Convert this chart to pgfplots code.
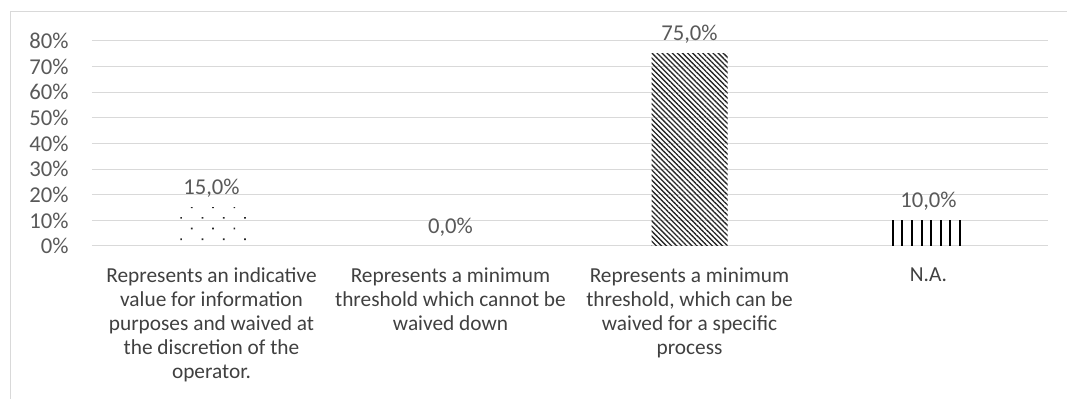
\documentclass[border=0pt]{standalone}
\usepackage{pgfplots}
\pgfplotsset{compat=1.18}
\usepackage{fontspec}
\setmainfont{Carlito}
\usetikzlibrary{patterns.meta}
\definecolor{gridc}{HTML}{D9D9D9}
\definecolor{txt}{HTML}{595959}
\definecolor{cat}{HTML}{404040}
\begin{document}
\begin{tikzpicture}
\useasboundingbox (0,0) rectangle (800.25pt,299.25pt);
\draw[gridc, line width=0.75pt] (7.5pt,0pt) |- (800.25pt,290.25pt);
\begin{axis}[
  at={(69pt,114.75pt)}, anchor=south west,
  scale only axis, width=717pt, height=153.75pt,
  xmin=-0.5, xmax=3.5, ymin=0, ymax=80,
  axis line style={draw=none},
  ymajorgrids, grid style={gridc, line width=0.75pt},
  major tick length=0pt,
  ytick={0,10,...,80},
  yticklabel={\pgfmathprintnumber{\tick}\%},
  y tick label style={font=\fontsize{17}{18}\selectfont, text=txt, anchor=east, xshift=-14pt},
  xtick={0,1,2,3},
  xticklabels={{Represents an indicative\\value for information\\purposes and waived at\\the discretion of the\\operator.},
               {Represents a minimum\\threshold which cannot be\\waived down},
               {Represents a minimum\\threshold, which can be\\waived for a specific\\process},
               {N.A.}},
  x tick label style={font=\fontsize{16}{18}\selectfont, text=cat, align=center, anchor=north, yshift=-13pt},
  /pgf/number format/assume math mode=true,
  ybar, bar width=57pt, bar shift=0pt,
  nodes near coords={\pgfmathprintnumber[fixed,fixed zerofill,precision=1,use comma,assume math mode=true]{\pgfplotspointmeta}\%},
  every node near coord/.append style={font=\fontsize{17}{18}\selectfont, text=txt, yshift=4pt},
  clip=false,
]
\addplot[draw=none, pattern={Dots[radius=0.9pt, distance=11.3pt, angle=45]}, pattern color=black!85] coordinates {(0,15)};
\addplot[draw=none, fill=none] coordinates {(1,0)};
\addplot[draw=none, pattern={Lines[angle=-45, distance=2.7pt, line width=1pt]}, pattern color=black!85] coordinates {(2,75)};
\addplot[draw=none, pattern={Lines[angle=90, distance=7.2pt, line width=1.6pt]}, pattern color=black] coordinates {(3,10)};
\end{axis}
\end{tikzpicture}
\end{document}
